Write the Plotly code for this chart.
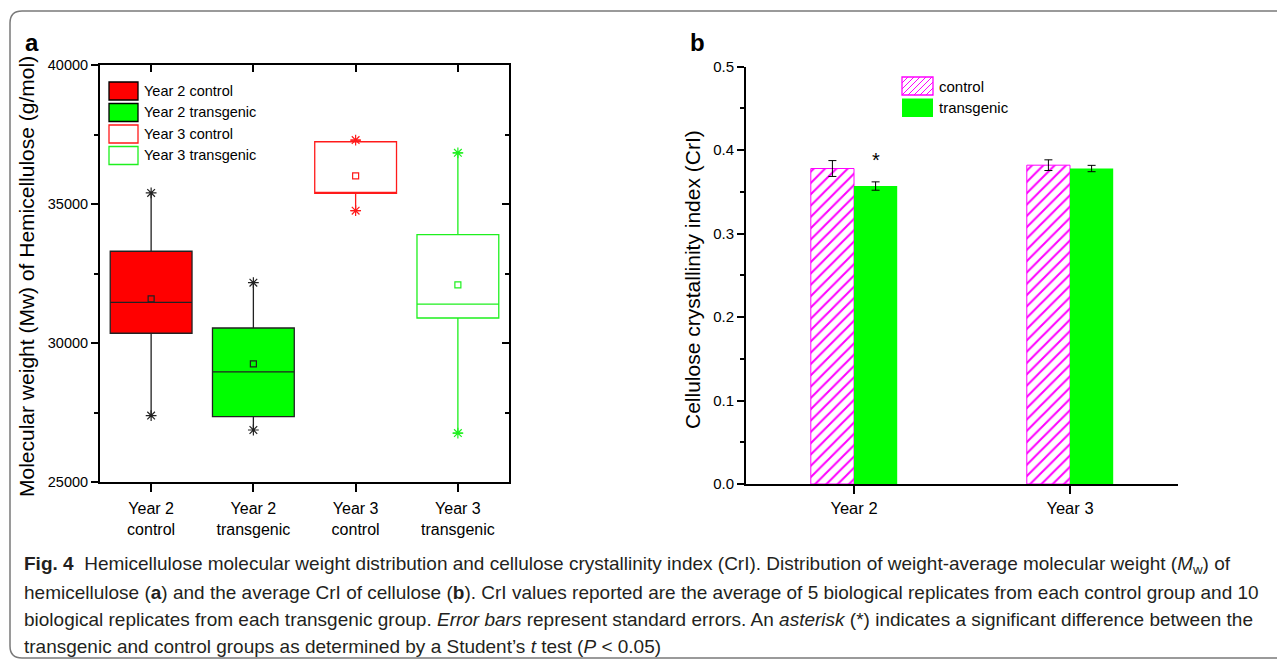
import plotly.graph_objects as go

# page is drawn with an 8px body margin, so the figure is offset; compensate
OFF = 8
W, H = 1285 - OFF, 661 - OFF

# ---------------- data: panel a (box summary statistics, g/mol) ----------------
groups = ["Year 2<br>control", "Year 2<br>transgenic", "Year 3<br>control", "Year 3<br>transgenic"]
group_names = ["Year 2 control", "Year 2 transgenic", "Year 3 control", "Year 3 transgenic"]
mw_upper = [35400, 32170, 37300, 36840]
mw_q3 = [33300, 30540, 37240, 33900]
mw_median = [31460, 28960, 35390, 31400]
mw_mean = [31590, 29250, 36010, 32090]
mw_q1 = [30350, 27350, 35380, 30900]
mw_lower = [27390, 26870, 34760, 26760]

# ---------------- data: panel b (CrI) ----------------
years = ["Year 2", "Year 3"]
cri_control = [0.378, 0.382]
cri_control_se = [0.0095, 0.0064]
cri_transgenic = [0.357, 0.378]
cri_transgenic_se = [0.005, 0.0038]

# ---------------- styles ----------------
box_fill = ["#ff0000", "#00ff00", "rgba(0,0,0,0)", "rgba(0,0,0,0)"]
box_line = ["#222222", "#222222", "#ff1a1a", "#1ef01e"]
whisker_w = [0.0, 0.0, 0.12, 0.12]
MAG = "#ff00ff"
GRN = "#00ff00"
FONT = "Liberation Sans, Arial, sans-serif"


def X(p):
    return (p - OFF) / W


def Y(p):
    return 1 - (p - OFF) / H


fig = go.Figure()

pos = list(range(len(groups)))
for i in pos:
    fig.add_trace(go.Box(
        x=[pos[i]], q1=[mw_q1[i]], median=[mw_median[i]], q3=[mw_q3[i]],
        lowerfence=[mw_lower[i]], upperfence=[mw_upper[i]],
        width=0.8, whiskerwidth=whisker_w[i], boxpoints=False,
        fillcolor=box_fill[i], line=dict(color=box_line[i], width=1.3),
        name=group_names[i], showlegend=False, xaxis="x", yaxis="y"))
    # mean marker
    fig.add_trace(go.Scatter(
        x=[pos[i]], y=[mw_mean[i]], mode="markers", showlegend=False,
        marker=dict(symbol="square-open", size=6, color=box_line[i], line=dict(width=1.2, color=box_line[i])),
        xaxis="x", yaxis="y"))
    # whisker end markers
    fig.add_trace(go.Scatter(
        x=[pos[i], pos[i]], y=[mw_lower[i], mw_upper[i]], mode="markers", showlegend=False,
        marker=dict(symbol="asterisk-open", size=9, color=box_line[i], line=dict(width=1.2, color=box_line[i])),
        xaxis="x", yaxis="y"))

# invisible trace to activate mirrored overlay axes
fig.add_trace(go.Scatter(x=[0], y=[30000], mode="markers", marker=dict(opacity=0),
                         showlegend=False, hoverinfo="skip", xaxis="x3", yaxis="y3"))

bx = list(range(len(years)))
fig.add_trace(go.Bar(
    x=bx, y=cri_control, name="control", showlegend=False, xaxis="x2", yaxis="y2",
    marker=dict(color="white", line=dict(color=MAG, width=1),
                pattern=dict(shape="/", fgcolor=MAG, bgcolor="white", size=8, solidity=0.25)),
    error_y=dict(type="data", array=cri_control_se, color="black", thickness=1, width=4)))
fig.add_trace(go.Bar(
    x=bx, y=cri_transgenic, name="transgenic", showlegend=False, xaxis="x2", yaxis="y2",
    marker=dict(color=GRN, line=dict(width=0)),
    error_y=dict(type="data", array=cri_transgenic_se, color="black", thickness=1, width=4)))

axis_common = dict(showline=True, linecolor="black", linewidth=2, showgrid=False, zeroline=False,
                   tickcolor="black", tickwidth=1.5, automargin=False)

fig.update_layout(
    template="none",
    width=W, height=H, margin=dict(l=0, r=0, t=0, b=0, pad=0, autoexpand=False),
    paper_bgcolor="white", plot_bgcolor="rgba(0,0,0,0)",
    font=dict(family=FONT, color="black", size=14),
    showlegend=False,
    boxmode="overlay", barmode="group", bargap=0.6, bargroupgap=0,
    xaxis=dict(domain=[X(100), X(509)], range=[-0.5, 3.5], anchor="y",
               tickmode="array", tickvals=pos, ticktext=groups, ticks="outside", ticklen=8,
               ticklabelstandoff=3, tickfont=dict(size=16), **axis_common),
    yaxis=dict(domain=[Y(482), Y(65)], range=[25000, 40000], anchor="x", tickformat="d",
               tick0=25000, dtick=5000, ticks="outside", ticklen=7, tickfont=dict(size=14.5),
               minor=dict(dtick=2500, ticks="outside", ticklen=4, tickcolor="black", tickwidth=1.5),
               **axis_common),
    xaxis3=dict(overlaying="x", side="top", anchor="y", range=[-0.5, 3.5],
                tickmode="array", tickvals=pos, ticks="inside", ticklen=7, showticklabels=False,
                **axis_common),
    yaxis3=dict(overlaying="y", side="right", anchor="x", range=[25000, 40000],
                tick0=25000, dtick=5000, ticks="inside", ticklen=7, showticklabels=False,
                minor=dict(dtick=2500, ticks="inside", ticklen=4, tickcolor="black", tickwidth=1.5),
                **axis_common),
    xaxis2=dict(domain=[X(746), X(1178)], range=[-0.5, 1.5], anchor="y2",
                tickmode="array", tickvals=bx, ticktext=years, ticks="outside", ticklen=8,
                tickfont=dict(size=16.5), **axis_common),
    yaxis2=dict(domain=[Y(484), Y(66.7)], range=[0, 0.5], anchor="x2",
                dtick=0.1, tickformat=".1f", ticks="outside", ticklen=7, tickfont=dict(size=15),
                minor=dict(dtick=0.05, ticks="outside", ticklen=4, tickcolor="black", tickwidth=1.5),
                **axis_common),
)

shapes = []
ann = []

# outer rounded frame
r = 12
x0, y0, x1, y1 = 10, 11, 1295, 658
path = (f"M {X(x0)},{Y(y0 + r)} Q {X(x0)},{Y(y0)} {X(x0 + r)},{Y(y0)} L {X(x1 - r)},{Y(y0)} "
        f"Q {X(x1)},{Y(y0)} {X(x1)},{Y(y0 + r)} L {X(x1)},{Y(y1 - r)} Q {X(x1)},{Y(y1)} {X(x1 - r)},{Y(y1)} "
        f"L {X(x0 + r)},{Y(y1)} Q {X(x0)},{Y(y1)} {X(x0)},{Y(y1 - r)} Z")
shapes.append(dict(type="path", xref="paper", yref="paper", path=path,
                   line=dict(color="#7a7a7a", width=1.5), fillcolor="rgba(0,0,0,0)", layer="below"))

# panel a legend
leg_top = [82, 103.5, 125, 146.5]
for i in range(len(group_names)):
    shapes.append(dict(type="rect", xref="paper", yref="paper",
                       x0=X(109), x1=X(138), y0=Y(leg_top[i]), y1=Y(leg_top[i] + 18),
                       fillcolor=box_fill[i],
                       line=dict(color=("black" if i < 2 else box_line[i]), width=1.3)))
    ann.append(dict(x=X(142), y=Y(leg_top[i] + 9), xref="paper", yref="paper", xanchor="left",
                    yanchor="middle", text=group_names[i], showarrow=False, font=dict(size=14.5)))

# panel b legend: hatched swatch
lx0, lx1, ly0, ly1 = 902, 933, 77, 95
shapes.append(dict(type="rect", xref="paper", yref="paper", x0=X(lx0), x1=X(lx1), y0=Y(ly0), y1=Y(ly1),
                   fillcolor="white", line=dict(color=MAG, width=1.3)))
step = 6
segs = []
c = lx0 - (ly1 - ly0)
while c < lx1:
    xa, ya = c, ly1
    xb, yb = c + (ly1 - ly0), ly0
    if xa < lx0:
        ya = ly1 - (lx0 - xa)
        xa = lx0
    if xb > lx1:
        yb = ly0 + (xb - lx1)
        xb = lx1
    if xb > xa:
        segs.append(f"M {X(xa)},{Y(ya)} L {X(xb)},{Y(yb)}")
    c += step
shapes.append(dict(type="path", xref="paper", yref="paper", path=" ".join(segs),
                   line=dict(color=MAG, width=1)))
shapes.append(dict(type="rect", xref="paper", yref="paper", x0=X(lx0), x1=X(lx1), y0=Y(98.5), y1=Y(117),
                   fillcolor=GRN, line=dict(width=0)))
ann.append(dict(x=X(937), y=Y(86), xref="paper", yref="paper", xanchor="left", yanchor="middle",
                text="control", showarrow=False, font=dict(size=15)))
ann.append(dict(x=X(937), y=Y(108), xref="paper", yref="paper", xanchor="left", yanchor="middle",
                text="transgenic", showarrow=False, font=dict(size=15)))

# significance asterisk
ann.append(dict(x=bx[0] + 0.1, y=cri_transgenic[0] + cri_transgenic_se[0], xref="x2", yref="y2",
                text="*", showarrow=False, xanchor="center", yanchor="bottom", yshift=9,
                font=dict(size=20)))

# panel letters
ann.append(dict(x=X(32), y=Y(42), xref="paper", yref="paper", text="<b>a</b>", showarrow=False,
                xanchor="center", yanchor="middle", font=dict(size=24)))
ann.append(dict(x=X(697), y=Y(42), xref="paper", yref="paper", text="<b>b</b>", showarrow=False,
                xanchor="center", yanchor="middle", font=dict(size=24)))

# y axis titles
ann.append(dict(x=X(27), y=Y(277), xref="paper", yref="paper", textangle=-90, showarrow=False,
                xanchor="center", yanchor="middle",
                text="Molecular weight (Mw) of Hemicellulose (g/mol)", font=dict(size=21)))
ann.append(dict(x=X(692), y=Y(280), xref="paper", yref="paper", textangle=-90, showarrow=False,
                xanchor="center", yanchor="middle",
                text="Cellulose crystallinity index (CrI)", font=dict(size=21)))

# caption
caption = [
    "<b>Fig. 4</b>  Hemicellulose molecular weight distribution and cellulose crystallinity index (CrI). "
    "Distribution of weight-average molecular weight (<i>M</i><sub>w</sub>) of",
    "hemicellulose (<b>a</b>) and the average CrI of cellulose (<b>b</b>). CrI values reported are the "
    "average of 5 biological replicates from each control group and 10",
    "biological replicates from each transgenic group. <i>Error bars</i> represent standard errors. "
    "An <i>asterisk</i> (*) indicates a significant difference between the",
    "transgenic and control groups as determined by a Student’s <i>t</i> test (<i>P</i> &lt; 0.05)",
]
cap_y = [565, 592, 619, 646]
for t, yy in zip(caption, cap_y):
    ann.append(dict(x=X(22), y=Y(yy), xref="paper", yref="paper", xanchor="left", yanchor="middle",
                    text=t, showarrow=False, font=dict(size=19, color="#231f20")))

fig.update_layout(shapes=shapes, annotations=ann)
fig.write_html("out.html")
